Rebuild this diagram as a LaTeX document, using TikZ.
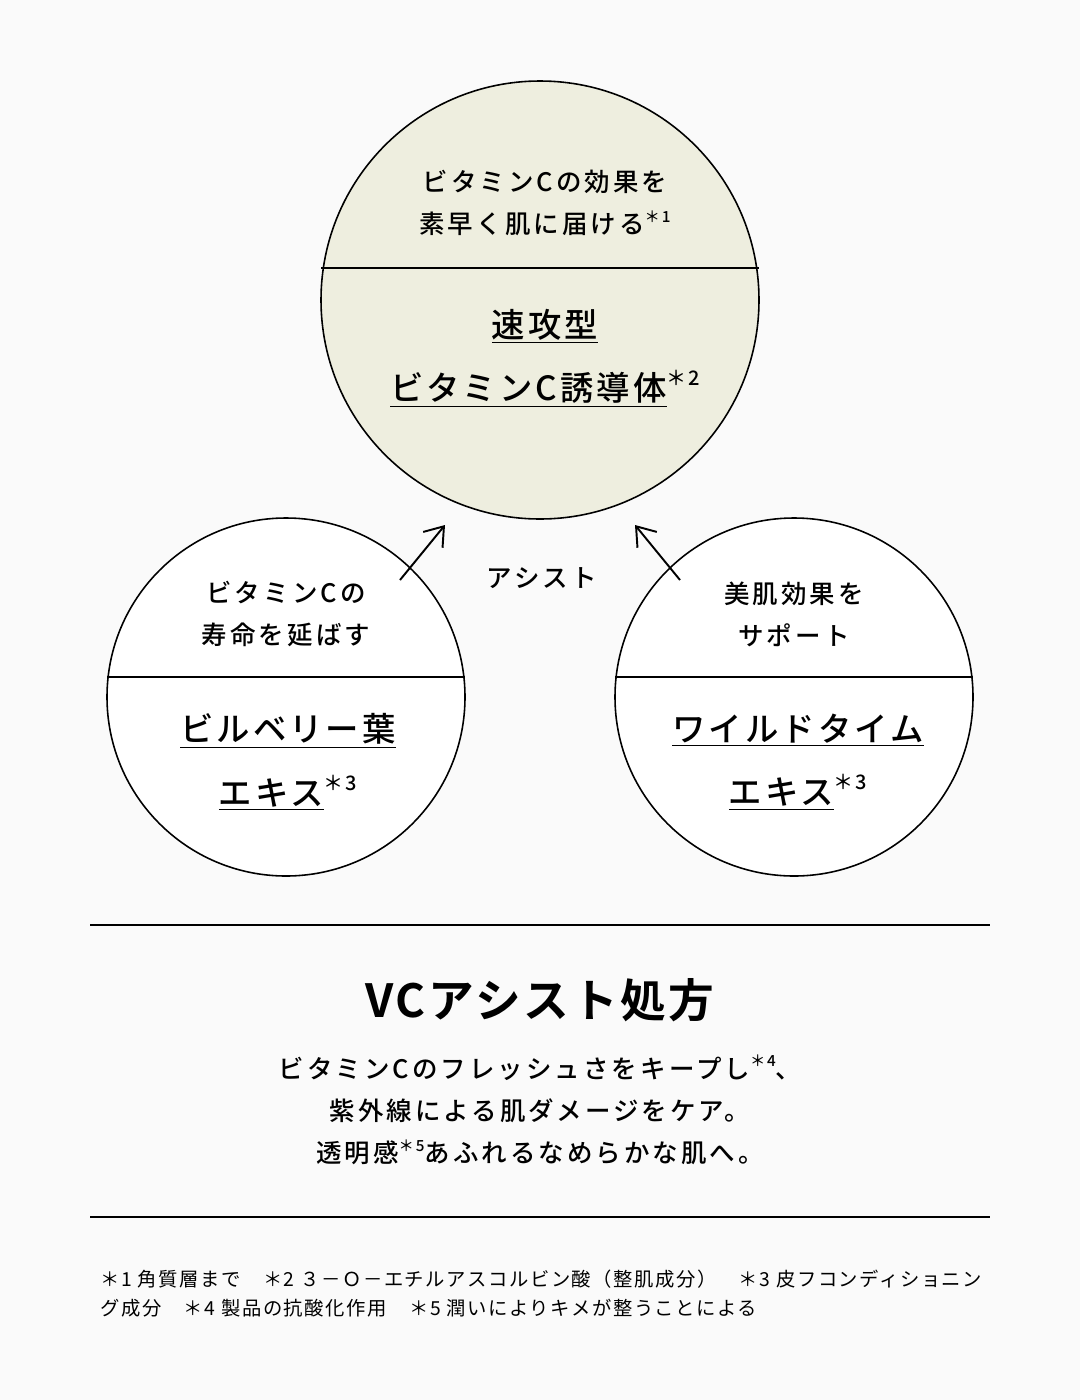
\documentclass[tikz,border=0pt]{standalone}
\usepackage{fontspec}
\setmainfont{Noto Sans CJK JP Medium}
\newfontfamily\leadfont[LetterSpace=12]{Noto Sans CJK JP Medium}
\newfontfamily\namefont[LetterSpace=9]{Noto Sans CJK JP Medium}
\newfontfamily\titlefont[LetterSpace=6]{Noto Sans CJK JP Bold}
\newfontfamily\notefont[LetterSpace=8]{Noto Sans CJK JP}
\usepackage{tikz}
\usetikzlibrary{positioning, arrows.meta}
\definecolor{bgpaper}{HTML}{FAFAFA}
\definecolor{vcfill}{HTML}{EEEEDF}
\newcommand{\note}[1]{\raisebox{0.45em}{\fontsize{0.6em}{0.6em}\selectfont ＊#1}}
\newcommand{\ulx}[1]{\underline{#1}}
\tikzset{
    ring/.style={draw=black, line width=0.9pt},
    lead/.style={font=\leadfont\fontsize{14.5pt}{24pt}\selectfont, align=center},
    mainname/.style={font=\namefont\fontsize{19pt}{36pt}\selectfont, align=center},
    assist/.style={draw=black, line width=1.1pt, -{Straight Barb[length=3.5mm, width=5mm]}},
    rule/.style={draw=black, line width=0.8pt}
}
\begin{document}
\begin{tikzpicture}[x=0.02cm, y=-0.02cm]
    \fill[bgpaper] (0,0) rectangle (1080,1400);
    \useasboundingbox (0,0) rectangle (1080,1400);

    % top circle
    \coordinate (topc) at (540,300);
    \fill[vcfill] (topc) circle (219);
    \draw[ring] (321,268) -- (759,268);
    \draw[ring] (topc) circle (219);
    \node[lead] (toplead) at (545,203) {ビタミンCの効果を\\素早く肌に届ける\note{1}};
    \node[mainname] (topname) at (545,358) {\ulx{速攻型}\\\ulx{ビタミンC誘導体}\note{2}};

    % left circle
    \coordinate (leftc) at (286,697);
    \fill[white] (leftc) circle (179);
    \draw[ring] (107,677) -- (465,677);
    \draw[ring] (leftc) circle (179);
    \node[lead] (leftlead) at (286,614) {ビタミンCの\\寿命を延ばす};
    \node[mainname] (leftname) at (288,762) {\ulx{ビルベリー葉}\\\ulx{エキス}\note{3}};

    % right circle
    \coordinate (rightc) at (794,697);
    \fill[white] (rightc) circle (179);
    \draw[ring] (615,677) -- (973,677);
    \draw[ring] (rightc) circle (179);
    \node[lead] (rightlead) at (794,614) {美肌効果を\\サポート};
    \node[mainname] (rightname) at (798,762) {\ulx{ワイルドタイム}\\\ulx{エキス}\note{3}};

    % arrows
    \coordinate (la0) at (400,580);
    \coordinate (la1) at (445,525);
    \coordinate (ra0) at (680,580);
    \coordinate (ra1) at (635,525);
    \draw[assist] (la0) -- (la1);
    \draw[assist] (ra0) -- (ra1);
    \node[lead] (assistlbl) at (542,578) {アシスト};

    % summary
    \draw[rule] (90,925) -- (990,925);
    \node[font=\titlefont\fontsize{26pt}{30pt}\selectfont] (title) at (540,1000) {VCアシスト処方};
    \node[font=\leadfont\fontsize{14.5pt}{24pt}\selectfont, align=center] (body) at (540,1110)
        {ビタミンCのフレッシュさをキープし\note{4}、\\紫外線による肌ダメージをケア。\\透明感\note{5}あふれるなめらかな肌へ。};
    \draw[rule] (90,1217) -- (990,1217);

    % footnotes
    \node[anchor=west, font=\notefont\fontsize{11pt}{12pt}\selectfont, inner sep=0] (fn1) at (100,1279)
        {＊1 角質層まで　＊2 ３－Ｏ－エチルアスコルビン酸（整肌成分）　＊3 皮フコンディショニン};
    \node[anchor=west, font=\notefont\fontsize{11pt}{12pt}\selectfont, inner sep=0] (fn2) at (100,1308)
        {グ成分　＊4 製品の抗酸化作用　＊5 潤いによりキメが整うことによる};
\end{tikzpicture}
\end{document}
